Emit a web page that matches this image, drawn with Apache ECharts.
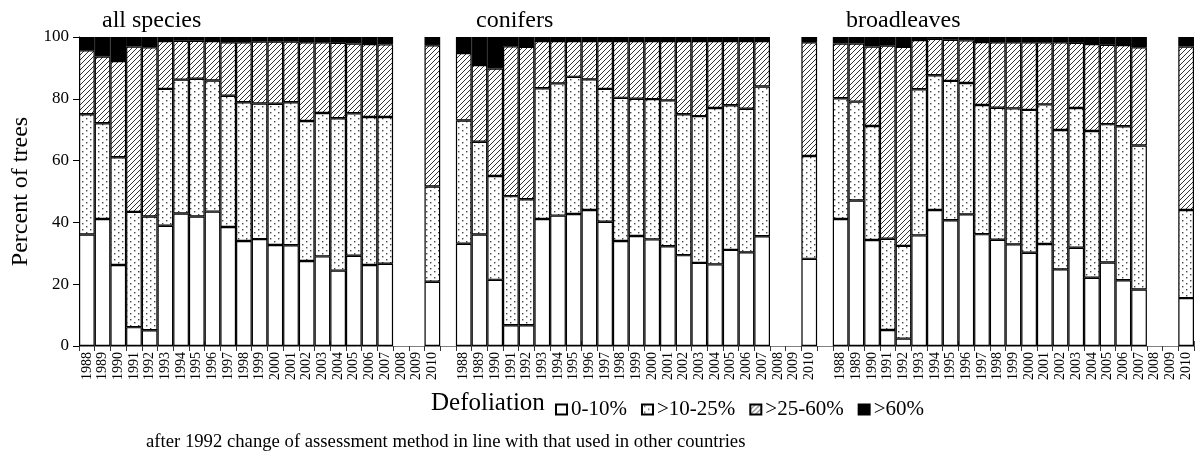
<!DOCTYPE html>
<html>
<head>
<meta charset="utf-8">
<script src="https://cdn.jsdelivr.net/npm/echarts@6/dist/echarts.min.js"></script>
<style>
  html, body { margin: 0; padding: 0; background: #fff; }
  #chart { width: 1198px; height: 461px; }
</style>
</head>
<body>
<div id="chart"></div>
<script>
// Survey years shown in each panel (2008 and 2009 have no assessment)
const years = ['1988','1989','1990','1991','1992','1993','1994','1995','1996','1997','1998',
  '1999','2000','2001','2002','2003','2004','2005','2006','2007','2008','2009','2010'];
const panelNames = ['all species', 'conifers', 'broadleaves'];
const classNames = ['0-10%', '>10-25%', '>25-60%', '>60%'];
const yTicks = [0, 20, 40, 60, 80, 100];

// Percent of trees per defoliation class, 1988..2010
const allSpecies0to10  = [36.1,41.1,26.2,6.1,5.1,38.9,42.9,41.9,43.5,38.5,34.0,34.6,32.7,32.6,27.5,29.0,24.4,29.2,26.2,26.6,null,null,20.8];
const allSpecies10to25 = [38.9,31.0,34.9,37.3,36.8,44.3,43.3,44.6,42.4,42.5,44.9,43.9,45.7,46.3,45.3,46.4,49.3,46.1,47.9,47.5,null,null,30.8];
const allSpecies25to60 = [20.7,21.6,31.1,53.5,54.8,15.5,12.6,12.3,12.8,17.3,19.4,20.0,20.1,19.6,25.5,22.9,24.4,22.6,23.6,23.5,null,null,45.7];
const allSpeciesOver60 = [4.3,6.3,7.8,3.1,3.3,1.3,1.2,1.2,1.3,1.7,1.7,1.5,1.5,1.5,1.7,1.7,1.9,2.1,2.3,2.4,null,null,2.7];

const conifers0to10  = [33.1,36.1,21.4,6.7,6.7,41.1,42.2,42.7,44.0,40.2,34.0,35.6,34.5,32.3,29.4,26.9,26.4,31.1,30.3,35.5,null,null,28.2];
const conifers10to25 = [39.9,30.0,33.6,41.8,40.8,42.3,42.8,44.4,42.3,43.0,46.3,44.4,45.4,47.2,45.6,47.5,50.6,46.8,46.5,48.5,null,null,33.3];
const conifers25to60 = [21.8,24.8,34.8,48.5,49.3,15.3,13.7,11.6,12.4,15.5,18.4,18.7,18.8,19.2,23.7,24.3,21.7,20.8,21.9,14.7,null,null,36.8];
const conifersOver60 = [5.2,9.1,10.2,3.0,3.2,1.3,1.3,1.3,1.3,1.3,1.3,1.3,1.3,1.3,1.3,1.3,1.3,1.3,1.3,1.3,null,null,1.7];

const broadleaves0to10  = [41.1,47.1,34.3,5.2,2.4,35.8,44.0,40.7,42.6,36.2,34.4,32.9,30.2,33.0,24.8,31.8,22.1,27.0,21.3,18.3,null,null,15.5];
const broadleaves10to25 = [39.1,32.0,36.9,29.5,30.0,47.3,43.6,45.1,42.5,41.8,42.7,44.0,46.2,45.2,45.1,45.2,47.5,44.8,49.8,46.6,null,null,28.5];
const broadleaves25to60 = [17.7,18.8,25.7,62.5,64.4,15.9,11.8,13.3,13.8,20.4,21.2,21.4,21.9,20.1,28.4,21.1,28.1,25.7,26.3,31.8,null,null,52.9];
const broadleavesOver60 = [2.1,2.1,3.1,2.8,3.2,1.0,0.6,0.9,1.1,1.6,1.7,1.7,1.7,1.7,1.7,1.9,2.3,2.5,2.6,3.3,null,null,3.1];

const FONT = '"Liberation Serif", "Times New Roman", serif';

// One continuous category axis: three panels separated by an empty slot
const panelSeries = [
  [allSpecies0to10, allSpecies10to25, allSpecies25to60, allSpeciesOver60],
  [conifers0to10, conifers10to25, conifers25to60, conifersOver60],
  [broadleaves0to10, broadleaves10to25, broadleaves25to60, broadleavesOver60]
];
const categories = [];
panelNames.forEach((p, i) => {
  if (i > 0) categories.push('gap' + i + '|');
  years.forEach(y => categories.push(p + '|' + y));
});
function joinPanels(classIdx) {
  const out = [];
  panelSeries.forEach((cls, i) => {
    if (i > 0) out.push(null);
    cls[classIdx].forEach(v => out.push(v));
  });
  return out;
}

// Fill patterns
function makeTile(size, draw) {
  const c = document.createElement('canvas');
  c.width = size[0]; c.height = size[1];
  const ctx = c.getContext('2d');
  ctx.fillStyle = '#fff';
  ctx.fillRect(0, 0, c.width, c.height);
  draw(ctx, c.width, c.height);
  return c;
}
const dotted = makeTile([8, 6], (ctx) => {
  ctx.fillStyle = '#444';
  ctx.fillRect(2, 1, 1.4, 1.4);
  ctx.fillRect(6, 4, 1.4, 1.4);
});
const hatched = makeTile([5, 5], (ctx, w, h) => {
  ctx.strokeStyle = '#333';
  ctx.lineWidth = 1;
  ctx.beginPath();
  ctx.moveTo(-1, h + 1); ctx.lineTo(w + 1, -1);
  ctx.moveTo(-1, 1); ctx.lineTo(1, -1);
  ctx.moveTo(w - 1, h + 1); ctx.lineTo(w + 1, h - 1);
  ctx.stroke();
});
const fills = [
  '#ffffff',
  { image: dotted, repeat: 'repeat' },
  { image: hatched, repeat: 'repeat' },
  '#000000'
];

const series = classNames.map((name, k) => ({
  name: name,
  type: 'bar',
  stack: 'share',
  xAxisIndex: 0,
  barWidth: '100%',
  data: joinPanels(k),
  itemStyle: { color: fills[k], borderColor: '#000', borderWidth: 1.2 },
  emphasis: { disabled: true },
  animation: false
}));

const chart = echarts.init(document.getElementById('chart'), null, { renderer: 'canvas' });
chart.setOption({
  animation: false,
  backgroundColor: '#fff',
  grid: { left: 79, right: 4, top: 37, bottom: 115 },
  title: [
    { text: panelNames[0], left: 97, top: 4 },
    { text: panelNames[1], left: 471, top: 4 },
    { text: panelNames[2], left: 841, top: 4 }
  ].map(t => Object.assign(t, {
    textStyle: { fontFamily: FONT, fontSize: 24, fontWeight: 'normal', color: '#000' }
  })),
  legend: {
    data: classNames,
    left: 550, top: 394,
    icon: 'rect',
    itemWidth: 11, itemHeight: 10, itemGap: 14,
    textStyle: { fontFamily: FONT, fontSize: 21, color: '#000', padding: [0, 0, 0, -1] },
    selectedMode: false
  },
  graphic: [
    { type: 'text', left: 431, top: 391,
      style: { text: 'Defoliation', font: '25px ' + FONT, fill: '#000' } },
    { type: 'text', left: 146, top: 433,
      style: { text: 'after 1992 change of assessment method in line with that used in other countries',
               font: '18.7px ' + FONT, fill: '#000' } }
  ],
  xAxis: [
    {
      type: 'category',
      data: categories,
      axisLine: { lineStyle: { color: '#808080', width: 1 } },
      axisTick: { show: true, length: 5, lineStyle: { color: '#333' } },
      axisLabel: {
        interval: 0, rotate: 90, margin: 6,
        fontFamily: FONT, fontSize: 14, color: '#000',
        formatter: v => v.split('|')[1]
      }
    },
    {
      // upward tick marks, visible only where no bar covers them
      type: 'category',
      data: categories,
      position: 'bottom',
      axisLine: { show: false },
      axisTick: { show: true, inside: true, length: 5, lineStyle: { color: '#555' } },
      axisLabel: { show: false }
    }
  ],
  yAxis: {
    type: 'value',
    min: 0, max: 100, interval: 20,
    name: 'Percent of trees',
    nameLocation: 'middle',
    nameGap: 44,
    nameTextStyle: { fontFamily: FONT, fontSize: 24, color: '#000' },
    axisLine: { show: true, lineStyle: { color: '#000', width: 1 } },
    axisTick: { show: true, length: 6, lineStyle: { color: '#000' } },
    axisLabel: { fontFamily: FONT, fontSize: 17, color: '#000', margin: 10,
                 formatter: v => (yTicks.includes(v) ? String(v) : '') },
    splitLine: { show: false }
  },
  series: series
});
</script>
</body>
</html>
